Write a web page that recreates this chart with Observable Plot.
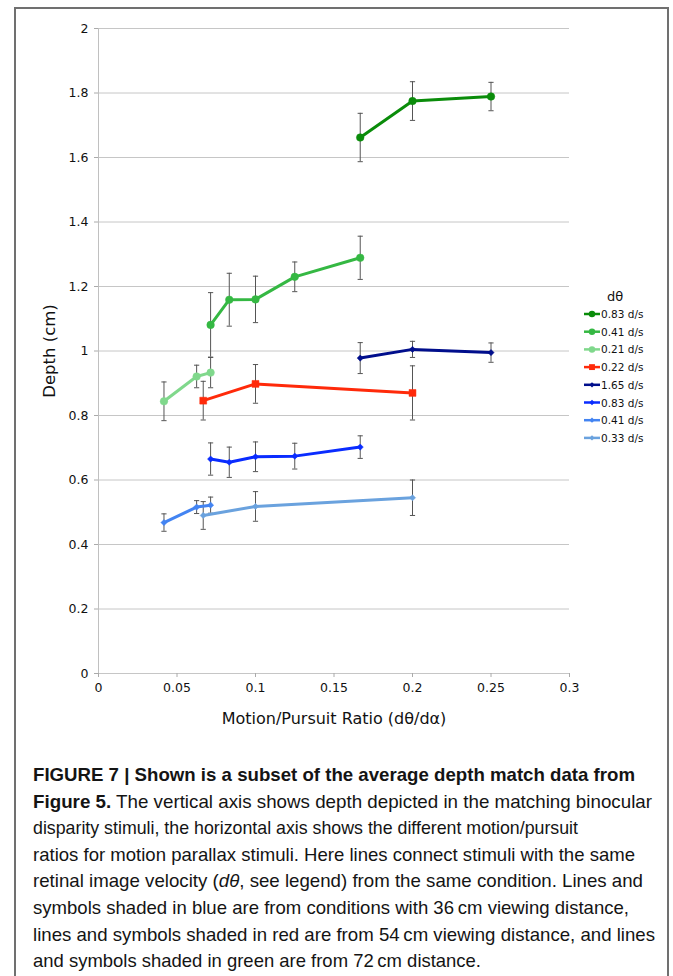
<!DOCTYPE html>
<html><head><meta charset="utf-8">
<script src="https://cdn.jsdelivr.net/npm/d3@7"></script>
<script src="https://cdn.jsdelivr.net/npm/@observablehq/plot@0.6"></script>
<style>
body{margin:0;background:#fff;}
#page{position:relative;width:673px;height:976px;overflow:hidden;font-family:"DejaVu Sans",Verdana,sans-serif;background:#fff;}
#frame{position:absolute;left:14px;top:7px;width:655px;height:1000px;border:2px solid #707070;box-sizing:border-box;}
#chart{position:absolute;left:0;top:0;}
#legend{position:absolute;left:0;top:0;}
#caption{position:absolute;left:33px;top:762px;font-family:"Liberation Sans",Arial,sans-serif;font-size:19px;line-height:26.6px;color:#141414;white-space:nowrap;}
#caption div{transform-origin:0 0;width:max-content;}
</style>
</head><body>
<div id="page">
  <div id="frame"></div>
  <div id="chart"></div>
  <svg id="legend" width="673" height="740"></svg>
  <div id="caption"></div>
</div>
<script>
// ---- axis ticks ----
const xTicks = [0, 0.05, 0.1, 0.15, 0.2, 0.25, 0.3];
const yTicks = [0, 0.2, 0.4, 0.6, 0.8, 1, 1.2, 1.4, 1.6, 1.8, 2];
const xTitle = "Motion/Pursuit Ratio (dθ/dα)";
const yTitle = "Depth (cm)";
const legendTitle = "dθ";

// ---- series (legend order) ----
const legendLabels = ["0.83 d/s", "0.41 d/s", "0.21 d/s", "0.22 d/s", "1.65 d/s", "0.83 d/s", "0.41 d/s", "0.33 d/s"];
const seriesColors = ["#0a8c0a", "#35b843", "#80d88c", "#ff2a0a", "#000e8c", "#0a2cff", "#4384f2", "#6aa2de"];
const seriesSymbols = ["circle", "circle", "circle", "square", "diamond2", "diamond2", "diamond2", "diamond2"];

// green, 72 cm
const g083X = [0.1667, 0.2, 0.25];
const g083Y = [1.662, 1.775, 1.789];
const g083E = [0.075, 0.06, 0.044];
const g041X = [0.0714, 0.0833, 0.1, 0.125, 0.1667];
const g041Y = [1.081, 1.159, 1.160, 1.230, 1.289];
const g041E = [0.10, 0.082, 0.072, 0.046, 0.067];
const g021X = [0.0417, 0.0625, 0.0714];
const g021Y = [0.844, 0.921, 0.933];
const g021E = [0.06, 0.035, 0.047];
// red, 54 cm
const r022X = [0.0667, 0.1, 0.2];
const r022Y = [0.846, 0.898, 0.870];
const r022E = [0.06, 0.06, 0.084];
// blue, 36 cm
const b165X = [0.1667, 0.2, 0.25];
const b165Y = [0.978, 1.005, 0.995];
const b165E = [0.048, 0.025, 0.03];
const b083X = [0.0714, 0.0833, 0.1, 0.125, 0.1667];
const b083Y = [0.665, 0.655, 0.672, 0.674, 0.702];
const b083E = [0.05, 0.047, 0.046, 0.04, 0.035];
const b041X = [0.0417, 0.0625, 0.0714];
const b041Y = [0.468, 0.516, 0.522];
const b041E = [0.027, 0.02, 0.025];
const b033X = [0.0667, 0.1, 0.2];
const b033Y = [0.490, 0.518, 0.545];
const b033E = [0.043, 0.046, 0.055];

const seriesX = [g083X, g041X, g021X, r022X, b165X, b083X, b041X, b033X];
const seriesY = [g083Y, g041Y, g021Y, r022Y, b165Y, b083Y, b041Y, b033Y];
const seriesE = [g083E, g041E, g021E, r022E, b165E, b083E, b041E, b033E];

// ---- build tables ----
const rowsOf = i => seriesX[i].map((x, j) => ({x, y: seriesY[i][j], e: seriesE[i][j]}));
const allRows = seriesX.flatMap((_, i) => rowsOf(i));
const symR = {circle: 3.8, square: 3.9, diamond2: 2.8};
const capSymbol = {draw(ctx, size) { const w = Math.sqrt(size / Math.PI); ctx.moveTo(-w, 0); ctx.lineTo(w, 0); }};
const fmt = d => String(+d.toFixed(2));

const lineMarks = seriesX.map((_, i) =>
  Plot.line(rowsOf(i), {x: "x", y: "y", stroke: seriesColors[i], strokeWidth: 3})
);
const dotMarks = seriesX.map((_, i) =>
  Plot.dot(rowsOf(i), {x: "x", y: "y", symbol: seriesSymbols[i], r: symR[seriesSymbols[i]], fill: seriesColors[i], stroke: seriesColors[i], strokeWidth: 0.5})
);

const chart = Plot.plot({
  width: 673, height: 740,
  marginLeft: 98, marginRight: 104, marginTop: 28, marginBottom: 67,
  style: {fontFamily: "'DejaVu Sans', Verdana, sans-serif", fontSize: "12.5px", color: "#111", background: "transparent"},
  x: {domain: [0, 0.3]},
  y: {domain: [0, 2]},
  marks: [
    Plot.gridY(yTicks, {stroke: "#c6c6c6", strokeOpacity: 1, strokeWidth: 1}),
    Plot.ruleX([0], {stroke: "#c0c0c0", strokeWidth: 1}),
    Plot.axisY(yTicks, {tickSize: 4, tickPadding: 6, tickFormat: fmt, stroke: "#aaa", label: null}),
    Plot.axisX(xTicks, {tickSize: 4, tickPadding: 6, tickFormat: fmt, stroke: "#aaa", label: null}),
    Plot.ruleX(allRows, {x: "x", y1: d => d.y - d.e, y2: d => d.y + d.e, stroke: "#555", strokeWidth: 1}),
    Plot.dot(allRows, {x: "x", y: d => d.y + d.e, symbol: capSymbol, r: 2.6, stroke: "#555", strokeWidth: 1}),
    Plot.dot(allRows, {x: "x", y: d => d.y - d.e, symbol: capSymbol, r: 2.6, stroke: "#555", strokeWidth: 1}),
    ...lineMarks,
    ...dotMarks,
    Plot.text([yTitle], {frameAnchor: "left", textAnchor: "middle", lineAnchor: "middle", rotate: -90, dx: -49, fontSize: 16.5, fill: "#111"}),
    Plot.text([xTitle], {frameAnchor: "bottom", textAnchor: "middle", lineAnchor: "middle", dy: 45, fontSize: 16, fill: "#111"})
  ]
});
document.getElementById("chart").appendChild(chart);

// ---- legend ----
const lg = d3.select("#legend").style("font-family", "'DejaVu Sans', Verdana, sans-serif");
lg.append("text").attr("x", 615).attr("y", 296).attr("text-anchor", "middle").attr("dominant-baseline", "central")
  .attr("font-size", 13).attr("fill", "#111").text(legendTitle);
const d3Sym = {circle: d3.symbolCircle, square: d3.symbolSquare, diamond2: d3.symbolDiamond2};
legendLabels.forEach((lab, i) => {
  const y = 314 + i * 17.7;
  const g = lg.append("g");
  g.append("line").attr("x1", 584).attr("x2", 600).attr("y1", y).attr("y2", y)
    .attr("stroke", seriesColors[i]).attr("stroke-width", 2.5);
  const rr = symR[seriesSymbols[i]] * 0.85;
  g.append("path").attr("transform", `translate(592,${y})`)
    .attr("d", d3.symbol(d3Sym[seriesSymbols[i]], rr * rr * Math.PI)())
    .attr("fill", seriesColors[i]);
  g.append("text").attr("x", 601).attr("y", y).attr("dominant-baseline", "central")
    .attr("font-size", 10.5).attr("fill", "#111").text(lab);
});

// ---- caption ----
const captionLines = [
  "<b>FIGURE 7 | Shown is a subset of the average depth match data from</b>",
  "<b>Figure 5.</b> The vertical axis shows depth depicted in the matching binocular",
  "disparity stimuli, the horizontal axis shows the different motion/pursuit",
  "ratios for motion parallax stimuli. Here lines connect stimuli with the same",
  "retinal image velocity (<i>dθ</i>, see legend) from the same condition. Lines and",
  "symbols shaded in blue are from conditions with 36\u2009cm viewing distance,",
  "lines and symbols shaded in red are from 54\u2009cm viewing distance, and lines",
  "and symbols shaded in green are from 72\u2009cm distance."
];
const captionLineEnds = [635, 652, 578, 635, 643, 629, 655, 481];
const cap = document.getElementById("caption");
cap.innerHTML = captionLines.map(l => `<div>${l}</div>`).join("");
[...cap.children].forEach((el, i) => {
  const w = el.getBoundingClientRect().width;
  el.style.transform = `scaleX(${(captionLineEnds[i] - 33) / w})`;
});
</script>
</body></html>
